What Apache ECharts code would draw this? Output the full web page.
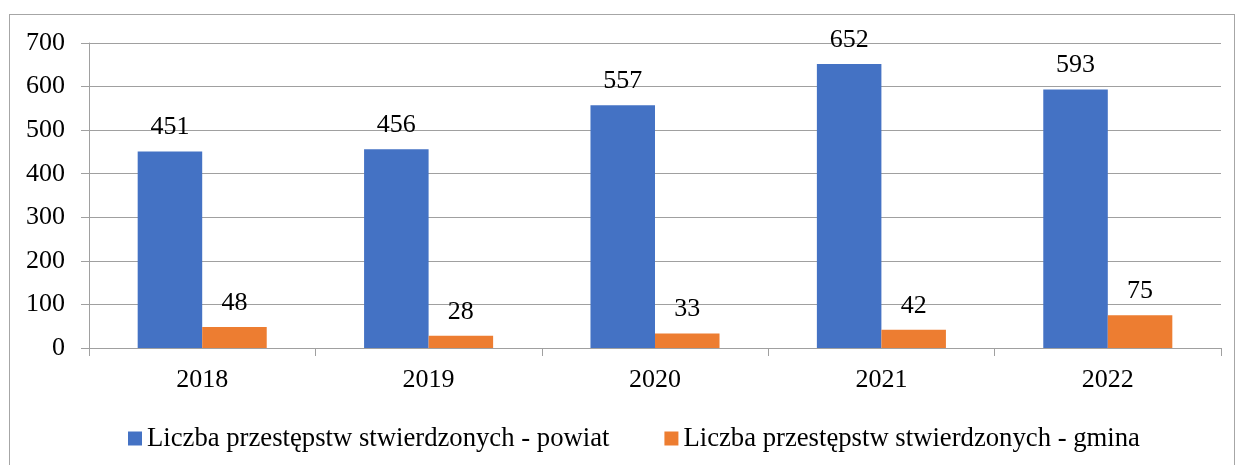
<!DOCTYPE html>
<html>
<head>
<meta charset="utf-8">
<script src="https://cdn.jsdelivr.net/npm/echarts@6/dist/echarts.min.js"></script>
<style>
  html, body { margin: 0; padding: 0; background: #fff; overflow: hidden; }
  #main {
    position: absolute;
    left: 9px;
    top: 14px;
    width: 1224px;
    height: 460px;
    border: 1px solid #a6a6a6;
  }
</style>
</head>
<body>
<div id="main"></div>
<script>
var years = ['2018', '2019', '2020', '2021', '2022'];
var powiat = [451, 456, 557, 652, 593];
var gmina = [48, 28, 33, 42, 75];
var seriesNames = ['Liczba przestępstw stwierdzonych - powiat', 'Liczba przestępstw stwierdzonych - gmina'];

var font = 'Liberation Serif';
var fs = 26;
var chart = echarts.init(document.getElementById('main'));

chart.setOption({
  animation: false,
  textStyle: { fontFamily: font, color: '#000' },
  grid: { left: 79, right: 13, top: 28, height: 305 },
  legend: {
    data: seriesNames,
    top: 405,
    left: 113,
    icon: 'rect',
    itemWidth: 14,
    itemHeight: 14,
    itemGap: 55,
    textStyle: { fontFamily: font, fontSize: 26.7, color: '#000' }
  },
  xAxis: {
    type: 'category',
    data: years,
    axisLine: { lineStyle: { color: '#a0a0a0' } },
    axisTick: { show: true, length: 8, lineStyle: { color: '#a0a0a0' } },
    axisLabel: { fontFamily: font, fontSize: fs, color: '#000', margin: 19 }
  },
  yAxis: {
    type: 'value',
    min: 0,
    max: 700,
    interval: 100,
    axisLine: { show: true, lineStyle: { color: '#a0a0a0' } },
    axisTick: { show: true, length: 8, lineStyle: { color: '#a0a0a0' } },
    splitLine: { lineStyle: { color: '#a0a0a0' } },
    axisLabel: { fontFamily: font, fontSize: fs, color: '#000', margin: 24 }
  },
  series: [
    {
      name: seriesNames[0],
      type: 'bar',
      data: powiat,
      barWidth: '28.5%',
      barGap: '0%',
      itemStyle: { color: '#4472c4' },
      label: { show: true, position: 'top', distance: 11, fontFamily: font, fontSize: fs, color: '#000' }
    },
    {
      name: seriesNames[1],
      type: 'bar',
      data: gmina,
      barWidth: '28.5%',
      barGap: '0%',
      itemStyle: { color: '#ed7d31' },
      label: { show: true, position: 'top', distance: 11, fontFamily: font, fontSize: fs, color: '#000' }
    }
  ]
});
</script>
</body>
</html>
